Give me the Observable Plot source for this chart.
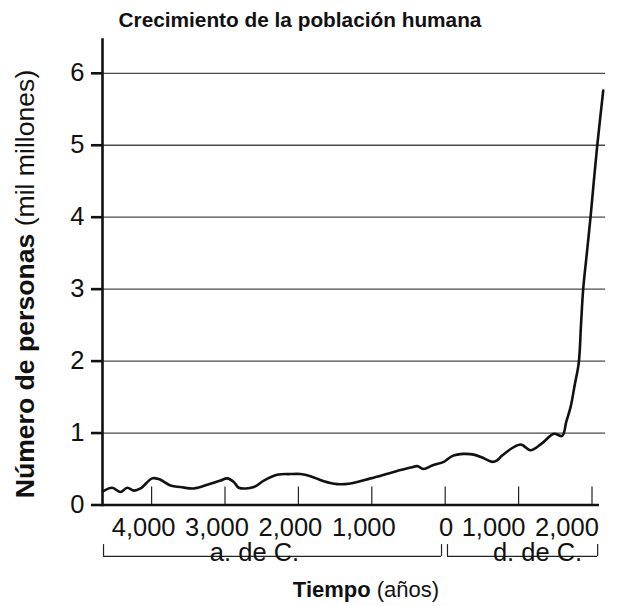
<!DOCTYPE html>
<html><head><meta charset="utf-8">
<script src="https://cdn.jsdelivr.net/npm/d3@7"></script>
<script src="https://cdn.jsdelivr.net/npm/@observablehq/plot@0.6"></script>
<style>
body{margin:0;background:#fff;}
svg{font-family:"Liberation Sans",Arial,Helvetica,sans-serif;}
</style>
</head><body><div id="chart"></div>
<script>
// Year (negative = a. de C.) and population (mil millones)
const years = [-4665,-4537,-4424,-4332,-4243,-4151,-3992,-3902,-3742,-3606,-3425,-3243,-3061,-2970,-2880,-2812,-2608,-2471,-2289,-2108,-1971,-1835,-1654,-1471,-1290,-1018,-700,-473,-381,-292,-177,-19,95,253,390,526,640,708,777,1026,1162,1322,1480,1594,1650,1708,1765,1820,1850,1880,1930,1980,2025,2071,2153];
const population = [0.19,0.24,0.18,0.24,0.20,0.23,0.37,0.36,0.27,0.25,0.23,0.28,0.34,0.37,0.32,0.24,0.25,0.34,0.42,0.43,0.43,0.40,0.33,0.29,0.30,0.37,0.46,0.52,0.54,0.50,0.55,0.60,0.68,0.71,0.70,0.65,0.60,0.62,0.69,0.84,0.76,0.86,0.99,0.96,1.16,1.36,1.67,1.98,2.5,3.0,3.5,4.0,4.5,4.99,5.76];

const yTicks = [0,1,2,3,4,5,6];
const xTicks = [-4000,-3000,-2000,-1000,0,1000,2000];
const xTickLabels = ["4,000","3,000","2,000","1,000","0","1,000","2,000"];

const eraNames = ["a. de C.","d. de C."];
const eraStart = [-4655, 31];
const eraEnd = [-50, 2077];
const eraLabelAt = [-2598, 1258];

const xDomain = [-4669, 2184];
const xAxisEnd = 2102;
const yDomain = [0, 6.47];

const data = years.map((year,i)=>({year, pop: population[i]}));
const ticks = xTicks.map((v,i)=>({v, label: xTickLabels[i]}));
const eras = eraNames.map((name,i)=>({name, start: eraStart[i], end: eraEnd[i], at: eraLabelAt[i]}));

const font = '"Liberation Sans",Arial,Helvetica,sans-serif';
const bracketY = -0.715, bracketTop = -0.55;
const fs = 25.5;

const plot = Plot.plot({
  width: 638, height: 606,
  marginTop: 39, marginBottom: 101.5, marginLeft: 102, marginRight: 33,
  x: {domain: xDomain, axis: null},
  y: {domain: yDomain},
  style: {fontFamily: font, background: "white", overflow: "visible", color: "#111"},
  marks: [
    Plot.ruleY(yTicks.filter(d=>d>0), {stroke:"#4a4a4a", strokeWidth:1.3}),
    Plot.ruleX(ticks, {x:"v", y1:0, y2:0.25, stroke:"#222", strokeWidth:1.2}),
    Plot.line(data, {x:"year", y:"pop", curve:"catmull-rom", stroke:"#111", strokeWidth:2.6}),
    Plot.ruleY([0], {x1: xDomain[0], x2: xAxisEnd, stroke:"#111", strokeWidth:2.6}),
    Plot.frame({anchor:"left", stroke:"#111", strokeWidth:2.6}),
    Plot.axisY(yTicks, {tickSize:11, tickPadding:7, fontSize:fs, strokeWidth:2.6, label:null, tickFormat:d=>String(d), fill:"#111"}),
    Plot.text(ticks.filter(d=>d.v<0), {x:"v", y:0, text:"label", dy:23, dx:-8, fontSize:fs, fill:"#111"}),
    Plot.text(ticks.filter(d=>d.v===0), {x:"v", y:0, text:"label", dy:23, dx:1, fontSize:fs, fill:"#111"}),
    Plot.text(ticks.filter(d=>d.v>0), {x:"v", y:0, text:"label", dy:23, dx:-25, fontSize:fs, fill:"#111"}),
    Plot.ruleY(eras, {y: bracketY, x1:"start", x2:"end", stroke:"#222", strokeWidth:1.2}),
    Plot.ruleX(eras, {x:"start", y1: bracketY, y2: bracketTop, stroke:"#222", strokeWidth:1.2}),
    Plot.ruleX(eras, {x:"end", y1: bracketY, y2: bracketTop, stroke:"#222", strokeWidth:1.2}),
    Plot.text(eras, {x:"at", y: bracketY, text:"name", dy:-4, fontSize:fs, fill:"#111", ariaLabel:"era-labels"})
  ]
});

const svg = d3.select(plot);
svg.append("text")
  .attr("x", 300).attr("y", 27)
  .attr("text-anchor","middle")
  .attr("font-size", 20.8).attr("font-weight","bold").attr("fill","#111")
  .text("Crecimiento de la población humana");

const yl = svg.append("text")
  .attr("transform","translate(34,284) rotate(-90)")
  .attr("text-anchor","middle")
  .attr("font-size", 26.6).attr("fill","#111")
  .style("white-space","pre");
yl.append("tspan").attr("font-weight","bold").text("Número de personas");
yl.append("tspan").text(" (mil millones)");

const xl = svg.append("text")
  .attr("x", 366).attr("y", 597)
  .attr("text-anchor","middle")
  .attr("font-size", 22).attr("fill","#111")
  .style("white-space","pre");
xl.append("tspan").attr("font-weight","bold").text("Tiempo");
xl.append("tspan").text(" (años)");

document.getElementById("chart").appendChild(plot);

// white backing behind the era labels so the bracket line breaks around them
svg.selectAll('g[aria-label="era-labels"] text').each(function(){
  const b = this.getBBox();
  const r = document.createElementNS("http://www.w3.org/2000/svg","rect");
  r.setAttribute("x", b.x - 4); r.setAttribute("y", b.y + 2);
  r.setAttribute("width", b.width + 8); r.setAttribute("height", b.height - 4);
  r.setAttribute("fill", "white");
  const t = this.getAttribute("transform"); if (t) r.setAttribute("transform", t);
  this.parentNode.insertBefore(r, this);
});
</script>
</body></html>
